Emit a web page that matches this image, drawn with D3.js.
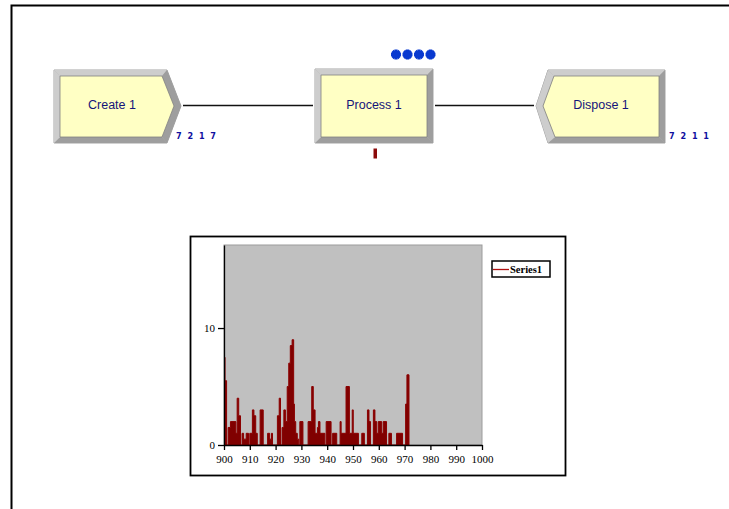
<!DOCTYPE html>
<html>
<head>
<meta charset="utf-8">
<script src="https://cdn.jsdelivr.net/npm/d3@7"></script>
<style>
  html, body { margin: 0; padding: 0; background: #fff; }
  svg { display: block; }
</style>
</head>
<body>
<svg id="model" width="729" height="509"></svg>
<script>
// flowchart text
const moduleNames = ["Create 1", "Process 1", "Dispose 1"];
const counterLabels = ["7 2 1 7", "7 2 1 1"];
const queueCount = 4;

// plot data: number in queue over simulated time (step series)
const times = [900, 900.4, 901.0, 901.6, 902.5, 904.6, 905.1, 905.7, 906.4, 907.0,
  907.6, 908.6, 909.5, 910.0, 911.0, 911.6, 912.3, 912.9, 914.0, 915.2,
  916.9, 917.7, 918.4, 918.8, 920.7, 921.4, 921.9, 922.5, 923.2, 923.8,
  924.5, 925.1, 925.7, 926.4, 927.0, 927.3, 927.8, 928.4, 929.0, 929.4,
  930.6, 932.6, 934.0, 934.6, 935.3, 936.2, 936.6, 937.2, 939.1, 939.6,
  941.5, 942.1, 943.7, 945.0, 945.4, 947.3, 948.6, 949.7, 950.1, 952.1,
  953.4, 954.4, 955.6, 956.2, 956.8, 957.9, 958.5, 959.2, 959.8, 961.1,
  961.7, 963.0, 963.9, 964.9, 966.9, 969.2, 970.4, 970.9, 971.7];
const queueValues = [7.5, 5.5, 0, 1.5, 2, 1, 4, 2.5, 0, 1,
  0.5, 1, 0, 1, 3, 2.5, 1, 0, 3, 0,
  1, 0.5, 1, 0, 2.5, 4, 0, 1.5, 3, 2,
  5, 7, 8.5, 9, 3.5, 2, 1, 0.5, 0, 2,
  0, 2, 5, 3, 1, 1.5, 2, 1, 0, 2,
  0, 1, 0, 2, 1, 5, 1, 3, 1, 0,
  1, 0, 3, 2, 0, 3, 2, 1, 2, 1,
  2, 0, 1, 0, 1, 0, 3.5, 6, 0];
const xTicks = [900, 910, 920, 930, 940, 950, 960, 970, 980, 990, 1000];
const yTicks = [0, 10];
const seriesName = "Series1";

const svg = d3.select("#model");

// window border
svg.append("path")
  .attr("d", "M11.5,509 V5.5 H729")
  .attr("fill", "none")
  .attr("stroke", "#000")
  .attr("stroke-width", 2);

// ---- flowchart modules ----
const LIGHT = "#cdcdcd";
const DARK = "#9e9e9e";

const shapes = [
  { // create: arrow pointing right
    outer: [[54, 70], [167, 70], [181, 106], [167, 143], [54, 143]],
    inner: [[60, 76], [162, 76], [174, 106], [162, 137], [60, 137]],
    shade: [LIGHT, DARK, DARK, DARK, LIGHT],
    cx: 112
  },
  { // process: rectangle
    outer: [[315, 69], [433, 69], [433, 143], [315, 143]],
    inner: [[321, 75], [427, 75], [427, 137], [321, 137]],
    shade: [LIGHT, DARK, DARK, LIGHT],
    cx: 374
  },
  { // dispose: notched on the left
    outer: [[548, 70], [665, 70], [665, 143], [548, 143], [536, 106]],
    inner: [[554, 76], [659, 76], [659, 137], [555, 137], [543, 106]],
    shade: [LIGHT, DARK, DARK, LIGHT, LIGHT],
    cx: 601
  }
];

// connectors
svg.append("g")
  .attr("stroke", "#111")
  .attr("stroke-width", 1.5)
  .selectAll("line")
  .data([[183, 313], [435, 534]])
  .join("line")
  .attr("x1", (d) => d[0])
  .attr("x2", (d) => d[1])
  .attr("y1", 105.5)
  .attr("y2", 105.5);

const mod = svg.append("g").selectAll("g").data(shapes).join("g");

mod.append("polygon")
  .attr("points", (d) => d.outer.join(" "))
  .attr("fill", "#b4b4b4")
  .attr("stroke", "#a4a4a4")
  .attr("stroke-width", 1);

mod.each(function (d) {
  const g = d3.select(this);
  const n = d.outer.length;
  for (let i = 0; i < n; i += 1) {
    const j = (i + 1) % n;
    g.append("polygon")
      .attr("points", [d.outer[i], d.outer[j], d.inner[j], d.inner[i]].join(" "))
      .attr("fill", d.shade[i]);
  }
});

mod.append("polygon")
  .attr("points", (d) => d.inner.join(" "))
  .attr("fill", "#ffffc4")
  .attr("stroke", "#808080")
  .attr("stroke-width", 0.8);

mod.append("text")
  .attr("x", (d) => d.cx)
  .attr("y", 108.5)
  .attr("text-anchor", "middle")
  .attr("font-family", "Liberation Sans, Arial, sans-serif")
  .attr("font-size", 12.5)
  .attr("fill", "#14147a")
  .text((d, i) => moduleNames[i]);

// entity counters
svg.append("g")
  .selectAll("text")
  .data(counterLabels)
  .join("text")
  .attr("x", (d, i) => (i === 0 ? 176 : 669))
  .attr("y", 139)
  .attr("font-family", "DejaVu Sans Condensed, sans-serif")
  .attr("font-weight", "bold")
  .attr("font-size", 9)
  .attr("letter-spacing", 1.5)
  .attr("fill", "#1010a0")
  .text((d) => d);

// queue entities above process
const qg = svg.append("g")
  .selectAll("g")
  .data(d3.range(queueCount))
  .join("g")
  .attr("transform", (d) => `translate(${396 + d * 11.5},54.5)`)
  .attr("fill", "#0a3ad0");
qg.append("circle").attr("r", 3.6);
qg.append("path").attr("d", d3.symbol(d3.symbolCross, 55));
qg.append("path").attr("d", d3.symbol(d3.symbolCross, 55)).attr("transform", "rotate(45)");

// resource picture
svg.append("rect")
  .attr("x", 373.5).attr("y", 148.5)
  .attr("width", 3.5).attr("height", 10)
  .attr("fill", "#8b0a0a");

// ---- plot ----
const frame = { x: 190.5, y: 236.5, w: 375, h: 239 };
svg.append("rect")
  .attr("x", frame.x).attr("y", frame.y)
  .attr("width", frame.w).attr("height", frame.h)
  .attr("fill", "#fff")
  .attr("stroke", "#000")
  .attr("stroke-width", 1.8);

const x = d3.scaleLinear().domain([900, 1000]).range([224, 482]);
const y = d3.scaleLinear().domain([0, 17.1]).range([445, 245]);

svg.append("rect")
  .attr("x", x(900)).attr("y", y(17.1))
  .attr("width", x(1000) - x(900)).attr("height", y(0) - y(17.1))
  .attr("fill", "#c0c0c0")
  .attr("stroke", "#9c9c9c")
  .attr("stroke-width", 1);

const points = times.map((t, i) => [t, queueValues[i]]);

svg.append("path")
  .datum(points)
  .attr("fill", "#800000")
  .attr("d", d3.area()
    .curve(d3.curveStepAfter)
    .x((d) => x(d[0]))
    .y0(y(0))
    .y1((d) => y(d[1])));

svg.append("path")
  .datum(points)
  .attr("fill", "none")
  .attr("stroke", "#8b0000")
  .attr("stroke-width", 1)
  .attr("d", d3.line()
    .curve(d3.curveStepAfter)
    .x((d) => x(d[0]))
    .y((d) => y(d[1])));

const axisFont = "Liberation Serif, Times New Roman, serif";

svg.append("g")
  .attr("transform", `translate(${x(900)},0)`)
  .call(d3.axisLeft(y).tickValues(yTicks).tickSize(6).tickSizeOuter(0).tickPadding(3))
  .call((g) => g.selectAll("path, line").attr("stroke", "#000").attr("stroke-width", 1.3))
  .call((g) => g.selectAll("text").attr("font-family", axisFont).attr("font-size", 11).attr("fill", "#000"));

svg.append("g")
  .attr("transform", `translate(0,${y(0)})`)
  .call(d3.axisBottom(x).tickValues(xTicks).tickFormat(d3.format("d")).tickSize(5).tickSizeOuter(0).tickPadding(5))
  .call((g) => g.selectAll("path, line").attr("stroke", "#000").attr("stroke-width", 1.3))
  .call((g) => g.selectAll("text").attr("font-family", axisFont).attr("font-size", 11).attr("fill", "#000"));

// legend
const legend = svg.append("g").attr("transform", "translate(492,261)");
legend.append("rect")
  .attr("width", 58).attr("height", 16)
  .attr("fill", "#fff")
  .attr("stroke", "#000")
  .attr("stroke-width", 1.5);
legend.append("line")
  .attr("x1", 1).attr("x2", 17)
  .attr("y1", 8.5).attr("y2", 8.5)
  .attr("stroke", "#b01010")
  .attr("stroke-width", 1.3);
legend.append("text")
  .attr("x", 18).attr("y", 12)
  .attr("font-family", axisFont)
  .attr("font-weight", "bold")
  .attr("font-size", 10.5)
  .attr("fill", "#000")
  .text(seriesName);
</script>
</body>
</html>
